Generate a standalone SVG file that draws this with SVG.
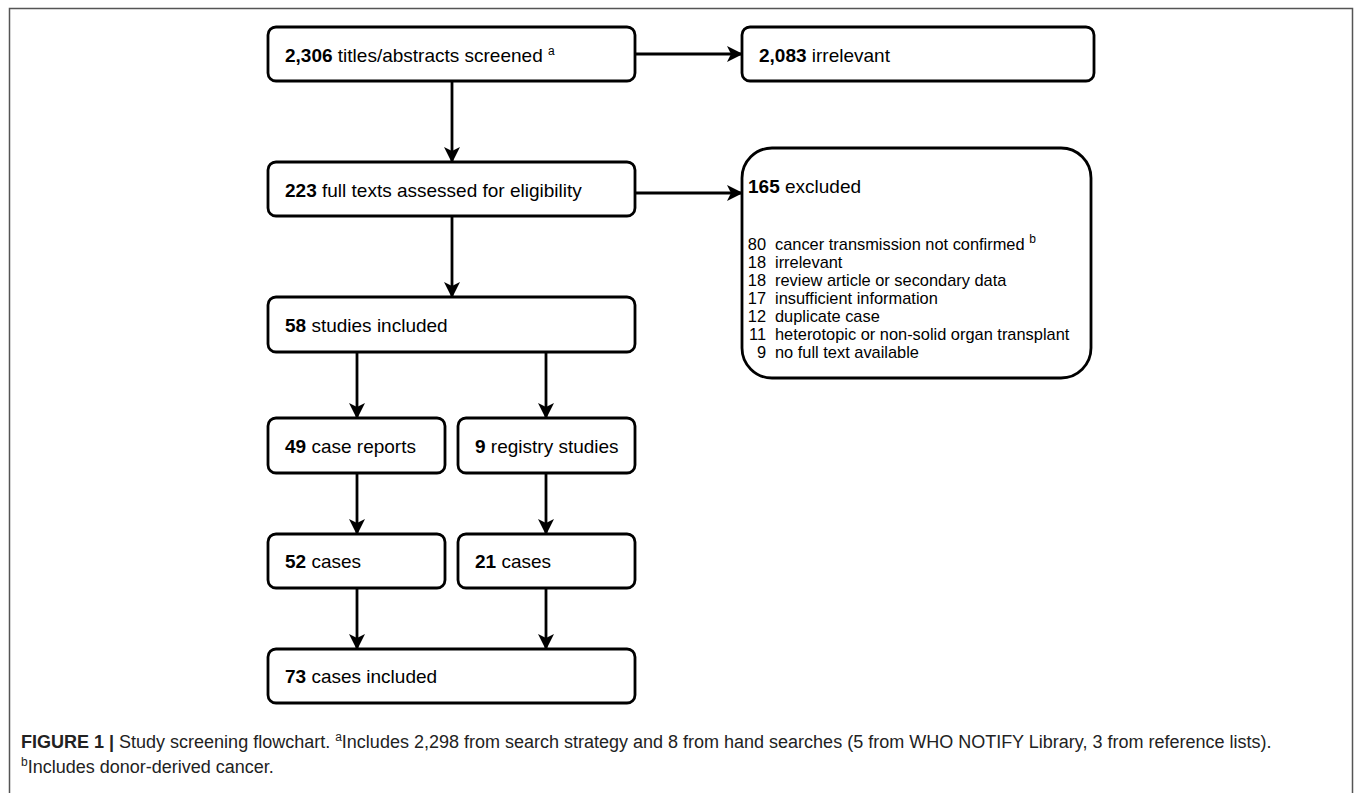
<svg xmlns="http://www.w3.org/2000/svg" width="1355" height="793" viewBox="0 0 1355 793">
<defs>
<marker id="ah" viewBox="0 0 16 16" refX="15" refY="8" markerWidth="16" markerHeight="16" markerUnits="userSpaceOnUse" orient="auto">
<path d="M0,0 L16,8 L0,16 L4,8 Z" fill="#000"/>
</marker>
<style>
.box{fill:#fff;stroke:#000;stroke-width:2.8}
.t{font-family:"Liberation Sans",Arial,sans-serif;font-size:19px;fill:#000}
.l{font-family:"Liberation Sans",Arial,sans-serif;font-size:16.4px;fill:#000}
.b{font-weight:bold}
.sup{font-size:12px}
.c{stroke:#000;stroke-width:2.8;fill:none;marker-end:url(#ah)}
.cap{font-family:"Liberation Sans",Arial,sans-serif;font-size:18px;fill:#222}
</style>
</defs>
<rect width="1355" height="793" fill="#fff"/>
<path d="M9.5,800 V8.5 H1352.5 V800" fill="none" stroke="#555" stroke-width="1.5"/>
<g id="connectors">
<line class="c" x1="452" y1="81" x2="452" y2="162"/>
<line class="c" x1="635" y1="54" x2="742" y2="54"/>
<line class="c" x1="452" y1="216" x2="452" y2="297"/>
<line class="c" x1="635" y1="193" x2="742" y2="193"/>
<line class="c" x1="357" y1="352" x2="357" y2="418"/>
<line class="c" x1="546" y1="352" x2="546" y2="418"/>
<line class="c" x1="357" y1="473" x2="357" y2="534"/>
<line class="c" x1="546" y1="473" x2="546" y2="534"/>
<line class="c" x1="357" y1="588" x2="357" y2="649"/>
<line class="c" x1="546" y1="588" x2="546" y2="649"/>
</g>
<g id="n1">
<rect class="box" x="268" y="27" width="367" height="54" rx="8"/>
<text class="t" x="285" y="62"><tspan class="b">2,306</tspan> titles/abstracts screened <tspan class="sup" dy="-7">a</tspan></text>
</g>
<g id="n2">
<rect class="box" x="742" y="27" width="352" height="54" rx="8"/>
<text class="t" x="759" y="62"><tspan class="b">2,083</tspan> irrelevant</text>
</g>
<g id="n3">
<rect class="box" x="268" y="162" width="367" height="54" rx="8"/>
<text class="t" x="285" y="197"><tspan class="b">223</tspan> full texts assessed for eligibility</text>
</g>
<g id="n4">
<rect class="box" x="742" y="148" width="349" height="230" rx="30"/>
<text class="t" x="748" y="193"><tspan class="b">165</tspan> excluded</text>
<g class="l">
<text x="766" y="250" text-anchor="end">80</text><text x="775" y="250">cancer transmission not confirmed <tspan class="sup" dy="-7">b</tspan></text>
<text x="766" y="268" text-anchor="end">18</text><text x="775" y="268">irrelevant</text>
<text x="766" y="286" text-anchor="end">18</text><text x="775" y="286">review article or secondary data</text>
<text x="766" y="304" text-anchor="end">17</text><text x="775" y="304">insufficient information</text>
<text x="766" y="322" text-anchor="end">12</text><text x="775" y="322">duplicate case</text>
<text x="766" y="340" text-anchor="end">11</text><text x="775" y="340">heterotopic or non-solid organ transplant</text>
<text x="766" y="358" text-anchor="end">9</text><text x="775" y="358">no full text available</text>
</g>
</g>
<g id="n5">
<rect class="box" x="268" y="297" width="367" height="55" rx="8"/>
<text class="t" x="285" y="332"><tspan class="b">58</tspan> studies included</text>
</g>
<g id="n6">
<rect class="box" x="268" y="418" width="177" height="55" rx="8"/>
<text class="t" x="285" y="453"><tspan class="b">49</tspan> case reports</text>
</g>
<g id="n7">
<rect class="box" x="458" y="418" width="177" height="55" rx="8"/>
<text class="t" x="475" y="453"><tspan class="b">9</tspan> registry studies</text>
</g>
<g id="n8">
<rect class="box" x="268" y="534" width="177" height="54" rx="8"/>
<text class="t" x="285" y="568"><tspan class="b">52</tspan> cases</text>
</g>
<g id="n9">
<rect class="box" x="458" y="534" width="177" height="54" rx="8"/>
<text class="t" x="475" y="568"><tspan class="b">21</tspan> cases</text>
</g>
<g id="n10">
<rect class="box" x="268" y="649" width="367" height="54" rx="8"/>
<text class="t" x="285" y="683"><tspan class="b">73</tspan> cases included</text>
</g>
<g id="caption">
<text class="cap" x="21" y="748"><tspan font-weight="bold">FIGURE 1 |</tspan> Study screening flowchart. <tspan font-size="12px" dy="-7">a</tspan><tspan dy="7">Includes 2,298 from search strategy and 8 from hand searches (5 from WHO NOTIFY Library, 3 from reference lists).</tspan></text>
<text class="cap" x="21" y="773"><tspan font-size="12px" dy="-7">b</tspan><tspan dy="7">Includes donor-derived cancer.</tspan></text>
</g>
</svg>
